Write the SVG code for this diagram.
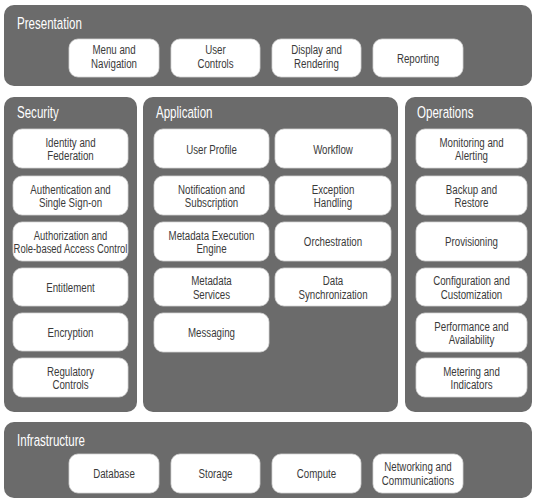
<svg xmlns="http://www.w3.org/2000/svg" width="534" height="499" viewBox="0 0 534 499">
  <style>
    .panel { fill: #6b6b6b; }
    .box { fill: #ffffff; stroke: #d4d4d4; stroke-width: 0.8; }
    .title { font-family: "Liberation Sans", Arial, sans-serif; font-size: 16.5px; fill: #ffffff; }
    .lbl { font-family: "Liberation Sans", Arial, sans-serif; font-size: 13.5px; fill: #3a3a3a; text-anchor: middle; }
  </style>
  <rect width="534" height="499" fill="#ffffff"/>

  <!-- Presentation layer -->
  <g id="presentation">
    <rect class="panel" x="4" y="5" width="528" height="81" rx="10"/>
    <text class="title" transform="translate(17 28.5) scale(0.7 1)">Presentation</text>
    <g id="menu-navigation">
      <rect class="box" x="69" y="39" width="90" height="38" rx="9"/>
      <text class="lbl" transform="translate(114 54) scale(0.72 1)"><tspan x="0">Menu and</tspan><tspan x="0" dy="14">Navigation</tspan></text>
    </g>
    <g id="user-controls">
      <rect class="box" x="171" y="39" width="89" height="38" rx="9"/>
      <text class="lbl" transform="translate(215.5 54) scale(0.72 1)"><tspan x="0">User</tspan><tspan x="0" dy="14">Controls</tspan></text>
    </g>
    <g id="display-rendering">
      <rect class="box" x="272" y="39" width="89" height="38" rx="9"/>
      <text class="lbl" transform="translate(316.5 54) scale(0.72 1)"><tspan x="0">Display and</tspan><tspan x="0" dy="14">Rendering</tspan></text>
    </g>
    <g id="reporting">
      <rect class="box" x="373" y="39" width="90" height="38" rx="9"/>
      <text class="lbl" transform="translate(418 63) scale(0.72 1)">Reporting</text>
    </g>
  </g>

  <!-- Security column -->
  <g id="security">
    <rect class="panel" x="4" y="97" width="133" height="315" rx="10"/>
    <text class="title" transform="translate(17 118) scale(0.7 1)">Security</text>
    <g id="identity-federation">
      <rect class="box" x="13" y="129" width="115" height="39" rx="9"/>
      <text class="lbl" transform="translate(70.5 146.5) scale(0.72 1)"><tspan x="0">Identity and</tspan><tspan x="0" dy="14">Federation</tspan></text>
    </g>
    <g id="authentication-sso">
      <rect class="box" x="13" y="176" width="115" height="39" rx="9"/>
      <text class="lbl" transform="translate(70.5 193.5) scale(0.72 1)"><tspan x="0">Authentication and</tspan><tspan x="0" dy="14">Single Sign-on</tspan></text>
    </g>
    <g id="authorization-rbac">
      <rect class="box" x="13" y="222" width="115" height="39" rx="9"/>
      <text class="lbl" transform="translate(70.5 239.5) scale(0.7 1)"><tspan x="0">Authorization and</tspan><tspan x="0" dy="14">Role-based Access Control</tspan></text>
    </g>
    <g id="entitlement">
      <rect class="box" x="13" y="268" width="115" height="38" rx="9"/>
      <text class="lbl" transform="translate(70.5 292) scale(0.72 1)">Entitlement</text>
    </g>
    <g id="encryption">
      <rect class="box" x="13" y="313" width="115" height="38" rx="9"/>
      <text class="lbl" transform="translate(70.5 337) scale(0.72 1)">Encryption</text>
    </g>
    <g id="regulatory-controls">
      <rect class="box" x="13" y="358" width="115" height="39" rx="9"/>
      <text class="lbl" transform="translate(70.5 375.5) scale(0.72 1)"><tspan x="0">Regulatory</tspan><tspan x="0" dy="14">Controls</tspan></text>
    </g>
  </g>

  <!-- Application column -->
  <g id="application">
    <rect class="panel" x="143" y="97" width="255" height="315" rx="10"/>
    <text class="title" transform="translate(156 118) scale(0.7 1)">Application</text>
    <g id="user-profile">
      <rect class="box" x="154" y="129" width="115" height="39" rx="9"/>
      <text class="lbl" transform="translate(211.5 154) scale(0.72 1)">User Profile</text>
    </g>
    <g id="workflow">
      <rect class="box" x="275" y="129" width="116" height="39" rx="9"/>
      <text class="lbl" transform="translate(333 154) scale(0.72 1)">Workflow</text>
    </g>
    <g id="notification-subscription">
      <rect class="box" x="154" y="176" width="115" height="39" rx="9"/>
      <text class="lbl" transform="translate(211.5 193.5) scale(0.72 1)"><tspan x="0">Notification and</tspan><tspan x="0" dy="14">Subscription</tspan></text>
    </g>
    <g id="exception-handling">
      <rect class="box" x="275" y="176" width="116" height="39" rx="9"/>
      <text class="lbl" transform="translate(333 193.5) scale(0.72 1)"><tspan x="0">Exception</tspan><tspan x="0" dy="14">Handling</tspan></text>
    </g>
    <g id="metadata-execution-engine">
      <rect class="box" x="154" y="222" width="115" height="39" rx="9"/>
      <text class="lbl" transform="translate(211.5 239.5) scale(0.72 1)"><tspan x="0">Metadata Execution</tspan><tspan x="0" dy="14">Engine</tspan></text>
    </g>
    <g id="orchestration">
      <rect class="box" x="275" y="222" width="116" height="39" rx="9"/>
      <text class="lbl" transform="translate(333 246) scale(0.72 1)">Orchestration</text>
    </g>
    <g id="metadata-services">
      <rect class="box" x="154" y="268" width="115" height="38" rx="9"/>
      <text class="lbl" transform="translate(211.5 285) scale(0.72 1)"><tspan x="0">Metadata</tspan><tspan x="0" dy="14">Services</tspan></text>
    </g>
    <g id="data-synchronization">
      <rect class="box" x="275" y="268" width="116" height="38" rx="9"/>
      <text class="lbl" transform="translate(333 285) scale(0.72 1)"><tspan x="0">Data</tspan><tspan x="0" dy="14">Synchronization</tspan></text>
    </g>
    <g id="messaging">
      <rect class="box" x="154" y="313" width="115" height="39" rx="9"/>
      <text class="lbl" transform="translate(211.5 337) scale(0.72 1)">Messaging</text>
    </g>
  </g>

  <!-- Operations column -->
  <g id="operations">
    <rect class="panel" x="405" y="97" width="127" height="315" rx="10"/>
    <text class="title" transform="translate(417 118) scale(0.7 1)">Operations</text>
    <g id="monitoring-alerting">
      <rect class="box" x="416" y="129" width="111" height="39" rx="9"/>
      <text class="lbl" transform="translate(471.5 146.5) scale(0.72 1)"><tspan x="0">Monitoring and</tspan><tspan x="0" dy="14">Alerting</tspan></text>
    </g>
    <g id="backup-restore">
      <rect class="box" x="416" y="176" width="111" height="39" rx="9"/>
      <text class="lbl" transform="translate(471.5 193.5) scale(0.72 1)"><tspan x="0">Backup and</tspan><tspan x="0" dy="14">Restore</tspan></text>
    </g>
    <g id="provisioning">
      <rect class="box" x="416" y="222" width="111" height="39" rx="9"/>
      <text class="lbl" transform="translate(471.5 246) scale(0.72 1)">Provisioning</text>
    </g>
    <g id="configuration-customization">
      <rect class="box" x="416" y="268" width="111" height="38" rx="9"/>
      <text class="lbl" transform="translate(471.5 285) scale(0.72 1)"><tspan x="0">Configuration and</tspan><tspan x="0" dy="14">Customization</tspan></text>
    </g>
    <g id="performance-availability">
      <rect class="box" x="416" y="313" width="111" height="39" rx="9"/>
      <text class="lbl" transform="translate(471.5 330.5) scale(0.72 1)"><tspan x="0">Performance and</tspan><tspan x="0" dy="14">Availability</tspan></text>
    </g>
    <g id="metering-indicators">
      <rect class="box" x="416" y="358" width="111" height="39" rx="9"/>
      <text class="lbl" transform="translate(471.5 375.5) scale(0.72 1)"><tspan x="0">Metering and</tspan><tspan x="0" dy="14">Indicators</tspan></text>
    </g>
  </g>

  <!-- Infrastructure layer -->
  <g id="infrastructure">
    <rect class="panel" x="4" y="422" width="528" height="76" rx="10"/>
    <text class="title" transform="translate(17 445.5) scale(0.7 1)">Infrastructure</text>
    <g id="database">
      <rect class="box" x="69" y="454" width="90" height="39" rx="9"/>
      <text class="lbl" transform="translate(114 478) scale(0.72 1)">Database</text>
    </g>
    <g id="storage">
      <rect class="box" x="171" y="454" width="89" height="39" rx="9"/>
      <text class="lbl" transform="translate(215.5 478) scale(0.72 1)">Storage</text>
    </g>
    <g id="compute">
      <rect class="box" x="272" y="454" width="89" height="39" rx="9"/>
      <text class="lbl" transform="translate(316.5 478) scale(0.72 1)">Compute</text>
    </g>
    <g id="networking-communications">
      <rect class="box" x="373" y="454" width="90" height="39" rx="9"/>
      <text class="lbl" transform="translate(418 471) scale(0.72 1)"><tspan x="0">Networking and</tspan><tspan x="0" dy="14">Communications</tspan></text>
    </g>
  </g>

  <!-- the layers stand side by side; no connectors are drawn -->
  <g id="connectors"/>
</svg>
